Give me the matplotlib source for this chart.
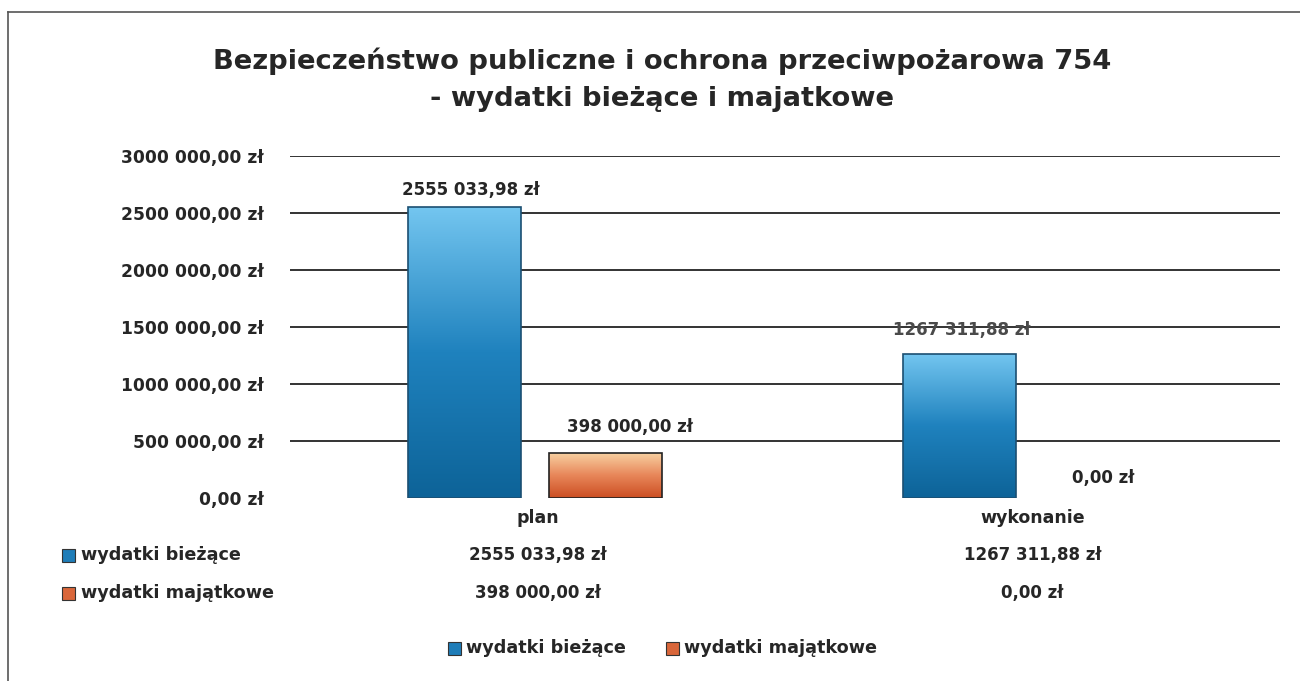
import numpy as np
import matplotlib.pyplot as plt
from matplotlib.colors import LinearSegmentedColormap
from matplotlib.lines import Line2D
from matplotlib.patches import Rectangle

plt.rcParams['font.family'] = ['DejaVu Sans']

title = 'Bezpieczeństwo publiczne i ochrona przeciwpożarowa 754\n- wydatki bieżące i majatkowe'
categories = ['plan', 'wykonanie']
series_names = ['wydatki bieżące', 'wydatki majątkowe']
biezace = [2555033.98, 1267311.88]
majatkowe = [398000.00, 0.00]
yticks = [0, 500000, 1000000, 1500000, 2000000, 2500000, 3000000]


def fmt(v):
    s = '{:.2f}'.format(v)
    whole, frac = s.split('.')
    if len(whole) > 3:
        whole = whole[:-3] + ' ' + whole[-3:]
    return whole + ',' + frac + ' zł'


blue_cmap = LinearSegmentedColormap.from_list('b', ['#0D6398', '#1F82BE', '#74C6F0'])
orange_cmap = LinearSegmentedColormap.from_list('o', ['#CC4E22', '#E8875A', '#F8D3A4'])
ink = '#262626'

fig = plt.figure(figsize=(13, 6.81), dpi=100)
ax = fig.add_axes([290 / 1300, 1 - 498 / 681, 990 / 1300, 342 / 681])

x = np.arange(len(categories))
w = 0.228
off = 0.142
grad = np.linspace(0, 1, 256).reshape(-1, 1)

for vals, sign, cmap, edge in [(biezace, -1, blue_cmap, '#1B4F72'), (majatkowe, 1, orange_cmap, '#222222')]:
    for xi, v in zip(x, vals):
        if v <= 0:
            continue
        b = ax.bar(xi + sign * off - 0.005, v, w, color='none', edgecolor=edge, linewidth=1.2, zorder=3)[0]
        im = ax.imshow(grad, cmap=cmap, origin='lower', aspect='auto',
                       extent=[b.get_x(), b.get_x() + w, 0, v], zorder=2)
        im.set_clip_path(b)

ax.set_xlim(-0.5, 1.5)
ax.set_ylim(0, 3000000)
ax.set_yticks(yticks)
ax.set_yticklabels([fmt(t) for t in yticks], fontsize=12.3, fontweight='bold', color=ink)
ax.tick_params(axis='y', length=0, pad=19)
ax.set_xticks([])
for s in ax.spines.values():
    s.set_visible(False)
for t in yticks[1:]:
    ax.axhline(t, color='#333333', linewidth=1.4, zorder=1)

# data labels
lab = dict(ha='center', va='bottom', fontsize=12, fontweight='bold', color=ink, zorder=5)
ax.text(x[0] - off + 0.008, biezace[0] + 70000, fmt(biezace[0]), **lab)
ax.text(x[0] + off + 0.045, majatkowe[0] + 150000, fmt(majatkowe[0]), **lab)
ax.text(x[1] - off, biezace[1] + 130000, fmt(biezace[1]), **dict(lab, color='#4A4A4A'))
ax.text(x[1] + off, majatkowe[1] + 100000, fmt(majatkowe[1]), **lab)

# data table
for i, c in enumerate(categories):
    xf = (290 + 495 * (i + 0.5)) / 1300
    fig.text(xf, 1 - 518 / 681, c, ha='center', va='center', fontsize=12.5,
             fontweight='bold', color=ink)
    fig.text(xf, 1 - 555 / 681, fmt(biezace[i]), ha='center', va='center',
             fontsize=12, fontweight='bold', color=ink)
    fig.text(xf, 1 - 593 / 681, fmt(majatkowe[i]), ha='center', va='center',
             fontsize=12, fontweight='bold', color=ink)

for name, yy, col in [(series_names[0], 555, '#1F7DB8'), (series_names[1], 593, '#D9663A')]:
    fig.patches.append(Rectangle((62 / 1300, 1 - (yy + 7) / 681), 13 / 1300, 13 / 681,
                                 transform=fig.transFigure, facecolor=col, edgecolor='#333333',
                                 linewidth=0.8))
    fig.text(81 / 1300, 1 - yy / 681, name, ha='left', va='center', fontsize=12.7,
             fontweight='bold', color=ink)

# legend
for name, xl, col in [(series_names[0], 448, '#1F7DB8'), (series_names[1], 666, '#D9663A')]:
    fig.patches.append(Rectangle((xl / 1300, 1 - 655 / 681), 13 / 1300, 13 / 681,
                                 transform=fig.transFigure, facecolor=col, edgecolor='#333333',
                                 linewidth=0.8))
    fig.text((xl + 18) / 1300, 1 - 648 / 681, name, ha='left', va='center', fontsize=12.7,
             fontweight='bold', color=ink)

fig.text(662 / 1300, 1 - 80 / 681, title, ha='center', va='center', fontsize=19.7,
         fontweight='bold', color=ink, linespacing=1.55)

# scan frame
fig.add_artist(Line2D([8 / 1300, 1], [1 - 12 / 681, 1 - 12 / 681], transform=fig.transFigure,
                      color='#555555', linewidth=1.2))
fig.add_artist(Line2D([8 / 1300, 8 / 1300], [0, 1 - 12 / 681], transform=fig.transFigure,
                      color='#555555', linewidth=1.2))

fig.savefig('out.png', dpi=100)
